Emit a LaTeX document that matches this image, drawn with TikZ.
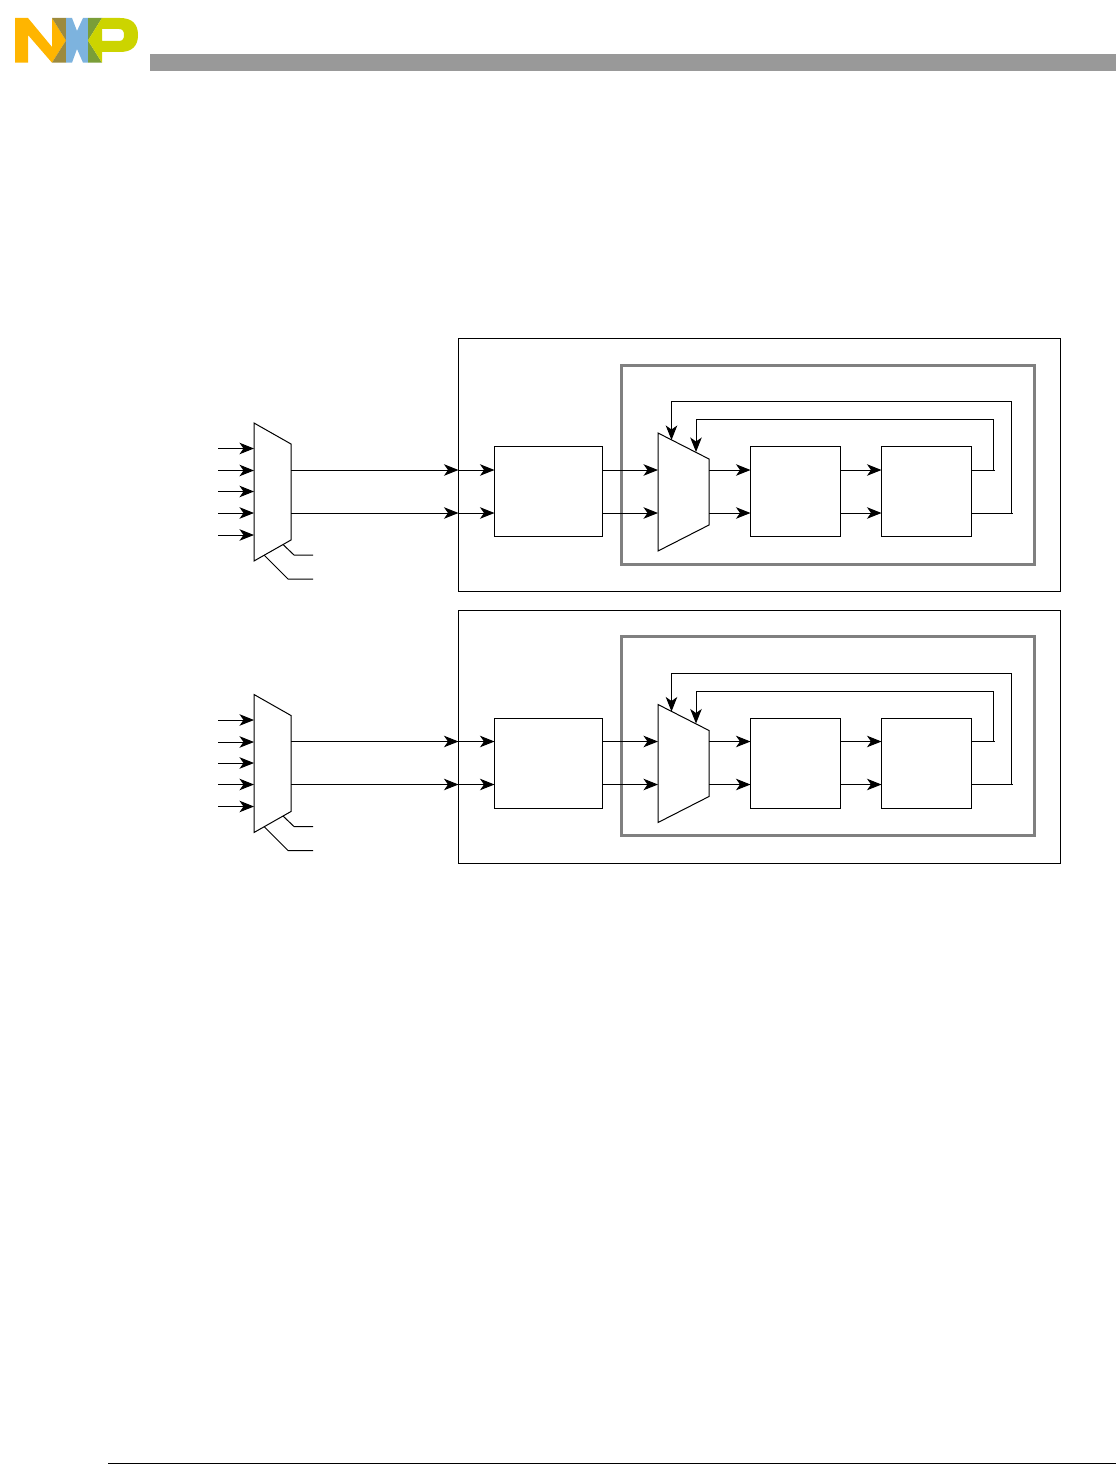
\documentclass[tikz,border=0pt]{standalone}
\usetikzlibrary{arrows.meta,calc}
\definecolor{nxporange}{HTML}{FFB500}
\definecolor{nxpolive}{HTML}{9C8A3E}
\definecolor{nxpblue}{HTML}{7DB3DE}
\definecolor{nxpgreen}{HTML}{7A9E38}
\definecolor{nxpyellow}{HTML}{CCD400}
\definecolor{barGray}{HTML}{999999}
\definecolor{frameGray}{HTML}{808080}
\tikzset{
  wire/.style={line width=1pt,black},
  arr/.style={wire,-{Stealth[length=14.5pt,width=11.5pt,inset=4pt]}},
  outerbox/.style={draw=black,line width=1pt,inner sep=0pt,outer sep=0pt,minimum width=601.5pt,minimum height=253pt},
  framebox/.style={draw=frameGray,line width=3pt,inner sep=0pt,outer sep=0pt,minimum width=413pt,minimum height=199pt},
  blockA/.style={draw=black,line width=1pt,inner sep=0pt,outer sep=0pt,minimum width=108pt,minimum height=90pt},
  blockB/.style={draw=black,line width=1pt,inner sep=0pt,outer sep=0pt,minimum width=90pt,minimum height=90pt},
  muxshape/.style={draw=black,line width=1pt,fill=white,line join=miter},
}
\begin{document}
\begin{tikzpicture}[x=1pt,y=-1pt]
\useasboundingbox (0,0) rectangle (1116,1471);
% logo
\fill[nxporange] (15,18) -- (28,18) -- (52,47) -- (52,18) -- (66,40.5) -- (52,62.7) -- (28,35) -- (28,62.7) -- (15,62.7) -- cycle;
\fill[nxpolive] (52,18) -- (66,18) -- (66,40.5) -- cycle;
\fill[nxpolive] (66,40.5) -- (66,62.7) -- (52,62.7) -- cycle;
\fill[nxpblue] (66,18) -- (72,18) -- (77,31) -- (83,18) -- (88,18) -- (88,62.7) -- (83,62.7) -- (77,49) -- (72,62.7) -- (66,62.7) -- cycle;
\fill[nxpgreen] (88,18) -- (102,18) -- (88,40.5) -- (102,62.7) -- (88,62.7) -- cycle;
\fill[nxpyellow,even odd rule] (102,18) -- (120,18) .. controls (132,18) and (138,24) .. (138,35) .. controls (138,46) and (132,52) .. (120,52) -- (102,52) -- (102,62.7) -- (88,40.5) -- cycle
  (102,29) -- (119,29) .. controls (122.5,29) and (124,31) .. (124,35) .. controls (124,39) and (122.5,41) .. (119,41) -- (102,41) -- cycle;
% page furniture
\fill[barGray] (150,54) rectangle (1116,71.5);
\draw[line width=1pt] (108,1463.5) -- (1116,1463.5);
% two identical stages
\foreach \s/\dy in {a/0,b/271.5}{
\begin{scope}[yshift=-\dy pt]
  \node[outerbox] (outer\s) at (759.25,465) {};
  \node[framebox] (frame\s) at (827.5,464.5) {};
  \node[blockA] (A\s) at (548.5,491.5) {};
  \node[blockB] (B\s) at (795.5,491.5) {};
  \node[blockB] (C\s) at (926.5,491.5) {};
  % input mux
  \draw[muxshape] (254,423) -- (291,444) -- (291,540) -- (254,561) -- cycle;
  \coordinate (ml\s) at (254,491);
  \coordinate (mo1\s) at (291,470);
  \coordinate (mo2\s) at (291,513);
  \foreach \i/\yy in {1/448.5,2/470.5,3/491.5,4/513,5/535}{
    \coordinate (in\i\s) at (218,\yy);
    \draw[arr] (in\i\s) -- (in\i\s -| ml\s);
  }
  % select lines
  \coordinate (sa0\s) at (283,544.5);
  \coordinate (sa1\s) at (294,555);
  \coordinate (sa2\s) at (313,555);
  \coordinate (sb0\s) at (264,555);
  \coordinate (sb1\s) at (288,579);
  \coordinate (sb2\s) at (313,579);
  \draw[wire] (sa0\s) -- (sa1\s) -- (sa2\s);
  \draw[wire] (sb0\s) -- (sb1\s) -- (sb2\s);
  % bus to block A
  \draw[arr] (mo1\s) -- (mo1\s -| outer\s.west);
  \draw[arr] (mo2\s) -- (mo2\s -| outer\s.west);
  \draw[arr] (mo1\s -| outer\s.west) -- (mo1\s -| A\s.west);
  \draw[arr] (mo2\s -| outer\s.west) -- (mo2\s -| A\s.west);
  % inner mux
  \draw[muxshape] (658,433) -- (709,459) -- (709,525) -- (658,551) -- cycle;
  \coordinate (il\s) at (658,491);
  \coordinate (ir\s) at (709,491);
  \draw[arr] (mo1\s -| A\s.east) -- (mo1\s -| il\s);
  \draw[arr] (mo2\s -| A\s.east) -- (mo2\s -| il\s);
  \draw[arr] (mo1\s -| ir\s) -- (mo1\s -| B\s.west);
  \draw[arr] (mo2\s -| ir\s) -- (mo2\s -| B\s.west);
  \draw[arr] (mo1\s -| B\s.east) -- (mo1\s -| C\s.west);
  \draw[arr] (mo2\s -| B\s.east) -- (mo2\s -| C\s.west);
  % feedback
  \coordinate (fbi\s) at (696,452);
  \coordinate (fbo\s) at (671.5,440);
  \coordinate (ci\s) at (993.5,470);
  \coordinate (co\s) at (1011.5,513);
  \draw[wire] (mo1\s -| C\s.east) -- ++(23.5,0);
  \draw[wire] (mo2\s -| C\s.east) -- ++(41.5,0);
  \draw[arr] (ci\s) -- (993.5,419.5) -- (696,419.5) -- (fbi\s);
  \draw[arr] (co\s) -- (1011.5,401.5) -- (671.5,401.5) -- (fbo\s);
\end{scope}
}
\end{tikzpicture}
\end{document}
